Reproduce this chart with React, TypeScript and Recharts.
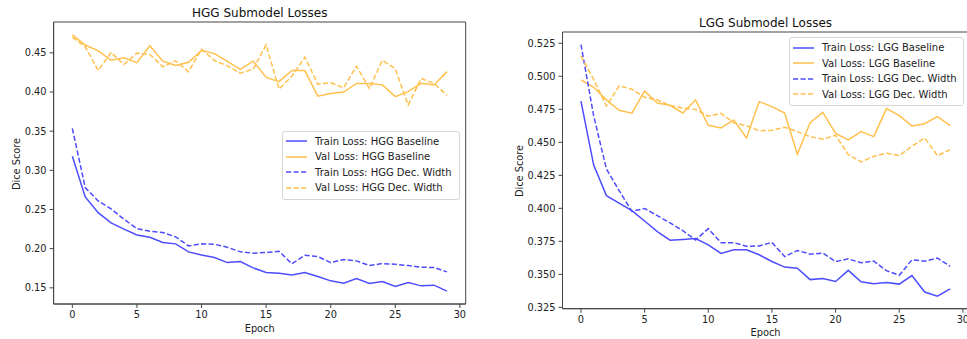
import React from 'react'
import { LineChart, Line, XAxis, YAxis, Legend, ReferenceArea } from 'recharts'

// epochs shared by both panels
const epochs = [0, 1, 2, 3, 4, 5, 6, 7, 8, 9, 10, 11, 12, 13, 14, 15, 16, 17, 18, 19, 20, 21, 22, 23, 24, 25, 26, 27, 28, 29]
const xTicks = [0, 5, 10, 15, 20, 25, 30]

// HGG panel
const hggTrainBase = [0.318, 0.266, 0.246, 0.233, 0.225, 0.2175, 0.2146, 0.2078, 0.2061, 0.1959, 0.192, 0.1886, 0.1822, 0.1835, 0.1755, 0.1695, 0.1687, 0.1665, 0.1695, 0.1644, 0.1589, 0.1559, 0.1619, 0.1555, 0.158, 0.1517, 0.1568, 0.1525, 0.1534, 0.1457]
const hggValBase = [0.473, 0.46, 0.4526, 0.4405, 0.4436, 0.4375, 0.459, 0.4394, 0.4338, 0.4379, 0.4528, 0.449, 0.4392, 0.4288, 0.4394, 0.4186, 0.4132, 0.4275, 0.4273, 0.3947, 0.398, 0.3999, 0.411, 0.411, 0.4091, 0.3941, 0.4004, 0.411, 0.4089, 0.426]
const hggTrainDec = [0.3535, 0.2779, 0.2609, 0.2507, 0.2375, 0.2256, 0.2222, 0.2205, 0.215, 0.2035, 0.2061, 0.2056, 0.2018, 0.1959, 0.1942, 0.195, 0.1967, 0.1806, 0.1916, 0.1899, 0.1822, 0.1861, 0.1844, 0.1784, 0.181, 0.1801, 0.1784, 0.1763, 0.1759, 0.1703]
const hggValDec = [0.47, 0.4577, 0.4275, 0.4504, 0.4351, 0.4496, 0.4479, 0.4322, 0.4398, 0.4258, 0.4547, 0.4402, 0.4334, 0.4241, 0.4292, 0.4602, 0.4037, 0.4203, 0.4445, 0.4101, 0.4118, 0.4054, 0.433, 0.4045, 0.4406, 0.4296, 0.3833, 0.4173, 0.4109, 0.396]
const hggYTicks = [0.15, 0.2, 0.25, 0.3, 0.35, 0.4, 0.45]

// LGG panel
const lggTrainBase = [0.4811, 0.4327, 0.4096, 0.404, 0.3983, 0.3904, 0.3823, 0.3759, 0.3764, 0.3771, 0.3723, 0.3658, 0.3686, 0.3686, 0.3648, 0.3597, 0.3555, 0.3546, 0.346, 0.3468, 0.3446, 0.353, 0.3443, 0.3429, 0.3438, 0.3426, 0.3491, 0.3366, 0.3335, 0.339]
const lggValBase = [0.4972, 0.4917, 0.4821, 0.4742, 0.472, 0.4889, 0.4798, 0.478, 0.4722, 0.4821, 0.4629, 0.4609, 0.4669, 0.4533, 0.4808, 0.477, 0.4722, 0.4409, 0.4649, 0.4727, 0.4568, 0.4518, 0.4581, 0.4543, 0.4755, 0.4702, 0.4624, 0.4641, 0.4694, 0.4626]
const lggTrainDec = [0.524, 0.47, 0.4298, 0.4134, 0.3977, 0.3999, 0.3944, 0.3889, 0.3831, 0.376, 0.3846, 0.374, 0.374, 0.3712, 0.3715, 0.3742, 0.3634, 0.3681, 0.3653, 0.3661, 0.3597, 0.3617, 0.3588, 0.36, 0.3528, 0.3493, 0.361, 0.36, 0.3623, 0.3561]
const lggValDec = [0.5154, 0.4975, 0.4775, 0.4927, 0.4902, 0.4841, 0.4821, 0.4778, 0.476, 0.4748, 0.4697, 0.472, 0.4647, 0.4626, 0.4588, 0.4591, 0.4614, 0.4581, 0.4543, 0.4523, 0.4553, 0.4407, 0.4351, 0.4394, 0.4417, 0.4399, 0.447, 0.4533, 0.4399, 0.4444]
const lggYTicks = [0.325, 0.35, 0.375, 0.4, 0.425, 0.45, 0.475, 0.5, 0.525]

const BLUE = '#4d4dff'
const ORANGE = '#ffc04d'
const SPINE = '#444'
const FONT = '"DejaVu Sans", sans-serif'
const DASH = '5.2 2.3'
const X_DOM: [number, number] = [-1.45, 30.45]

type Series = { key: string; name: string; color: string; dash?: string }

const makeSeries = (tag: string): Series[] => [
  { key: 'trainBase', name: `Train Loss: ${tag} Baseline`, color: BLUE },
  { key: 'valBase', name: `Val Loss: ${tag} Baseline`, color: ORANGE },
  { key: 'trainDec', name: `Train Loss: ${tag} Dec. Width`, color: BLUE, dash: DASH },
  { key: 'valDec', name: `Val Loss: ${tag} Dec. Width`, color: ORANGE, dash: DASH }
]

const buildRows = (a: number[], b: number[], c: number[], d: number[]) =>
  epochs.map((epoch, i) => ({ epoch, trainBase: a[i], valBase: b[i], trainDec: c[i], valDec: d[i] }))

// matplotlib style autoscale: 5% margin around data
const yDomain = (arrs: number[][]): [number, number] => {
  const all = arrs.flat()
  const lo = Math.min(...all)
  const hi = Math.max(...all)
  const pad = (hi - lo) * 0.05
  return [lo - pad, hi + pad]
}

interface PanelProps {
  rows: any[]
  series: Series[]
  yTicks: number[]
  yDom: [number, number]
  fmt: (v: number) => string
  width: number
  margin: { top: number; right: number; bottom: number; left: number }
  yWidth: number
  xHeight: number
  legendPos: { left: number; top: number; width: number }
}

function Panel({ rows, series, yTicks, yDom, fmt, width, margin, yWidth, xHeight, legendPos }: PanelProps) {
  const tickStyle = { fill: '#222', fontSize: 9.8, fontFamily: FONT }

  const renderLegend = () => (
    <div
      style={{
        border: '1px solid #d6d6d6',
        borderRadius: 3,
        background: 'rgba(255,255,255,0.8)',
        padding: '2px 4px 3px 3px',
        fontFamily: FONT,
        fontSize: 10,
        color: '#222'
      }}
    >
      {series.map(s => (
        <div key={s.key} style={{ display: 'flex', alignItems: 'center', height: 15.5 }}>
          <svg width={21} height={6} style={{ marginRight: 8 }}>
            <line x1={0} y1={3} x2={21} y2={3} stroke={s.color} strokeWidth={1.5} strokeDasharray={s.dash} />
          </svg>
          <span style={{ whiteSpace: 'nowrap' }}>{s.name}</span>
        </div>
      ))}
    </div>
  )

  return (
    <LineChart width={width} height={339} data={rows} margin={margin}>
      <XAxis
        dataKey="epoch"
        type="number"
        domain={X_DOM}
        ticks={xTicks}
        allowDataOverflow
        height={xHeight}
        tickSize={4}
        tickMargin={3}
        stroke={SPINE}
        tick={tickStyle}
      />
      <YAxis
        type="number"
        domain={yDom}
        ticks={yTicks}
        allowDataOverflow
        width={yWidth}
        tickSize={4}
        tickMargin={3}
        stroke={SPINE}
        tick={tickStyle}
        tickFormatter={fmt}
      />
      {/* axes frame (top and right spines) */}
      <ReferenceArea
        x1={X_DOM[0]}
        x2={X_DOM[1]}
        y1={yDom[0]}
        y2={yDom[1]}
        fill="none"
        fillOpacity={0}
        stroke={SPINE}
        strokeWidth={1}
        ifOverflow="visible"
      />
      <Legend
        layout="vertical"
        align="center"
        verticalAlign="middle"
        content={renderLegend}
        wrapperStyle={{ left: legendPos.left, top: legendPos.top, width: legendPos.width }}
      />
      {series.map(s => (
        <Line
          key={s.key}
          type="linear"
          dataKey={s.key}
          name={s.name}
          stroke={s.color}
          strokeWidth={1.5}
          strokeDasharray={s.dash}
          dot={false}
          isAnimationActive={false}
        />
      ))}
    </LineChart>
  )
}

const titleStyle: React.CSSProperties = {
  position: 'absolute',
  fontFamily: FONT,
  fontSize: 12,
  color: '#111',
  transform: 'translate(-50%, -50%)',
  whiteSpace: 'nowrap'
}
const labelStyle: React.CSSProperties = { ...titleStyle, fontSize: 9.8, color: '#222' }

export default function App() {
  const hggRows = buildRows(hggTrainBase, hggValBase, hggTrainDec, hggValDec)
  const lggRows = buildRows(lggTrainBase, lggValBase, lggTrainDec, lggValDec)
  const hggDom = yDomain([hggTrainBase, hggValBase, hggTrainDec, hggValDec])
  const lggDom = yDomain([lggTrainBase, lggValBase, lggTrainDec, lggValDec])

  return (
    <div style={{ position: 'absolute', left: 0, top: 0, width: 967, height: 339, overflow: 'hidden', background: '#fff' }}>
      <div style={{ position: 'absolute', left: 0, top: 0 }}>
        <Panel
          rows={hggRows}
          series={makeSeries('HGG')}
          yTicks={hggYTicks}
          yDom={hggDom}
          fmt={v => v.toFixed(2)}
          width={480}
          margin={{ top: 22, right: 14.3, bottom: 0, left: 0 }}
          yWidth={53.6}
          xHeight={35}
          legendPos={{ left: 282, top: 130.5, width: 178 }}
        />
      </div>
      <div style={{ position: 'absolute', left: 487, top: 0 }}>
        <Panel
          rows={lggRows}
          series={makeSeries('LGG')}
          yTicks={lggYTicks}
          yDom={lggDom}
          fmt={v => v.toFixed(3)}
          width={490}
          margin={{ top: 32, right: 8.4, bottom: 0, left: 0 }}
          yWidth={75.5}
          xHeight={30.3}
          legendPos={{ left: 302, top: 37, width: 175 }}
        />
      </div>

      <div style={{ ...titleStyle, left: 259.7, top: 13.3 }}>HGG Submodel Losses</div>
      <div style={{ ...labelStyle, left: 259.7, top: 328 }}>Epoch</div>
      <div style={{ ...labelStyle, left: 15.5, top: 164, transform: 'translate(-50%, -50%) rotate(-90deg)' }}>Dice Score</div>

      <div style={{ ...titleStyle, left: 765.5, top: 23.3 }}>LGG Submodel Losses</div>
      <div style={{ ...labelStyle, left: 765.5, top: 332 }}>Epoch</div>
      <div style={{ ...labelStyle, left: 518.7, top: 171, transform: 'translate(-50%, -50%) rotate(-90deg)' }}>Dice Score</div>
    </div>
  )
}
